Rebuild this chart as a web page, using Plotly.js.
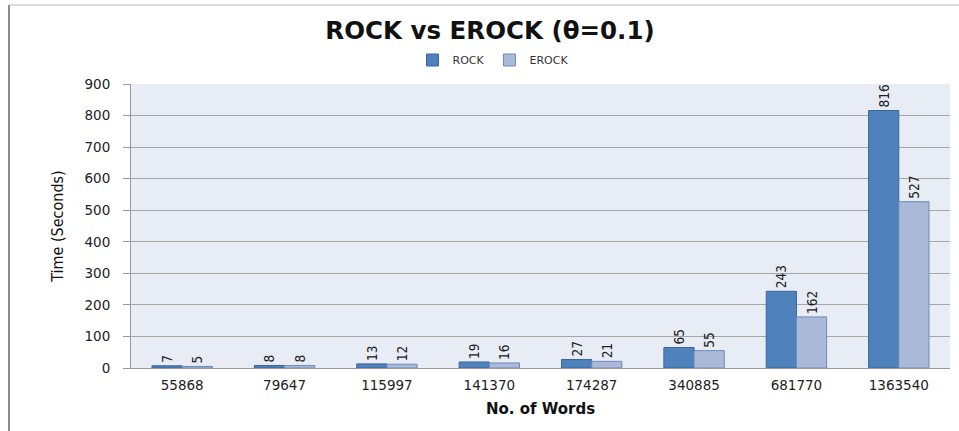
<!DOCTYPE html>
<html>
<head>
<meta charset="utf-8">
<script src="https://cdn.plot.ly/plotly-3.0.1.min.js"></script>
<style>
html,body{margin:0;padding:0;background:#fff;}
#chart{width:959px;height:431px;}
#chart .textpoint text, #chart .g-ytitle text { font-stretch: condensed !important; }
</style>
</head>
<body>
<div id="chart"></div>
<script>
const categories = ["55868","79647","115997","141370","174287","340885","681770","1363540"];
const rockValues = [7, 8, 13, 19, 27, 65, 243, 816];
const erockValues = [5, 8, 12, 16, 21, 55, 162, 527];
const seriesNames = ["ROCK", "EROCK"];

const narrow = "DejaVu Sans Condensed, Liberation Sans Narrow, Arial Narrow, DejaVu Sans, sans-serif";
const wide = "DejaVu Sans, Verdana, sans-serif";
const labelFont = {family: narrow, size: 13.5, color: "#222"};

const common = {
  type: "bar",
  x: categories,
  textposition: "outside",
  textangle: -90,
  cliponaxis: false,
  constraintext: "none",
  textfont: labelFont,
  hoverinfo: "none"
};

const data = [
  Object.assign({}, common, {
    name: seriesNames[0], y: rockValues, text: rockValues.map(String),
    marker: {color: "#4f81bd", line: {color: "#3b659a", width: 1}}
  }),
  Object.assign({}, common, {
    name: seriesNames[1], y: erockValues, text: erockValues.map(String),
    marker: {color: "#a9b9d7", line: {color: "#6f8bbb", width: 1}}
  })
];

const L = 131, R = 9, T = 84, B = 63, W = 959, H = 431;
const pw = W - L - R, ph = H - T - B;
const px = v => (v - L) / pw;
const py = v => (H - B - v) / ph;

const layout = {
  width: W, height: H,
  margin: {l: L, r: R, t: T, b: B, pad: 0},
  paper_bgcolor: "#ffffff",
  plot_bgcolor: "#e8ecf4",
  barmode: "group",
  bargap: 0.41,
  bargroupgap: 0,
  font: {family: wide, color: "#222"},
  title: {
    text: "<b>ROCK vs EROCK (θ=0.1)</b>",
    font: {family: wide, size: 24.5, color: "#111"},
    x: 490 / W, xanchor: "center", xref: "container",
    y: 1 - 30 / H, yanchor: "middle", yref: "container"
  },
  showlegend: true,
  legend: {
    orientation: "h",
    x: px(493), xanchor: "center",
    y: py(60), yanchor: "middle",
    font: {family: wide, size: 11, color: "#333"},
    itemwidth: 30,
    tracegroupgap: 0,
    bgcolor: "rgba(0,0,0,0)"
  },
  xaxis: {
    type: "category",
    showgrid: false,
    showline: true, linecolor: "#9a9a9a", linewidth: 1,
    ticks: "",
    ticklabelstandoff: 5,
    tickfont: {family: wide, size: 13.5, color: "#222"},
    title: {text: "<b>No. of Words</b>", font: {family: wide, size: 15, color: "#111"}, standoff: 11},
    fixedrange: true
  },
  yaxis: {
    range: [0, 900],
    dtick: 100,
    tick0: 0,
    showgrid: true, gridcolor: "#a6a6a6", gridwidth: 1,
    showline: true, linecolor: "#9a9a9a", linewidth: 1,
    ticks: "outside", ticklen: 7, tickcolor: "#9a9a9a",
    ticklabelstandoff: 10,
    tickfont: {family: wide, size: 13.5, color: "#222"},
    title: {text: "Time (Seconds)", font: {family: narrow, size: 16, color: "#111"}, standoff: 16},
    zeroline: false,
    fixedrange: true
  },
  shapes: [
    {type: "line", xref: "paper", yref: "paper", x0: px(9), x1: px(9), y0: py(5), y1: py(H), line: {color: "#8c8c8c", width: 2}},
    {type: "line", xref: "paper", yref: "paper", x0: px(9), x1: px(W), y0: py(5), y1: py(5), line: {color: "#b4b4b4", width: 1}}
  ]
};

Plotly.newPlot("chart", data, layout, {displayModeBar: false, staticPlot: true});
</script>
</body>
</html>
